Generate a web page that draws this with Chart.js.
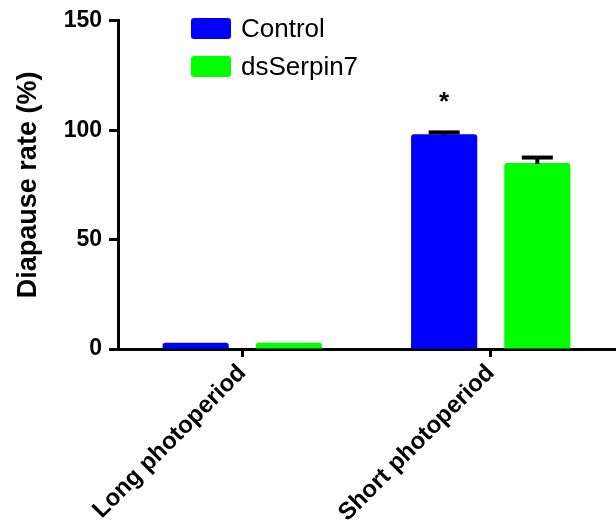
<!DOCTYPE html>
<html>
<head>
<meta charset="utf-8">
<script src="https://cdn.jsdelivr.net/npm/chart.js@4/dist/chart.umd.min.js"></script>
<style>
  html, body { margin: 0; padding: 0; background: #ffffff; }
  #wrap { width: 616px; height: 528px; position: relative; }
</style>
</head>
<body>
<div id="wrap"><canvas id="c" width="616" height="528"></canvas></div>
<script>
const categories = ['Long photoperiod', 'Short photoperiod'];
const seriesNames = ['Control', 'dsSerpin7'];
const controlValues = [2.8, 98.2];
const controlErrors = [0, 0.8];
const dsSerpin7Values = [2.8, 85.0];
const dsSerpin7Errors = [0, 2.5];
const controlMarks = ['', '*'];
const dsSerpin7Marks = ['', ''];
const yTicks = [0, 50, 100, 150];
const yTitle = 'Diapause rate (%)';

const FONT = 'Arial, "Liberation Sans", Helvetica, sans-serif';
const BLUE = '#0000FF';
const GREEN = '#00FF00';

const errorBarPlugin = {
  id: 'errorBars',
  afterDatasetsDraw(chart) {
    const ctx = chart.ctx;
    const y = chart.scales.y;
    chart.data.datasets.forEach((ds, di) => {
      const meta = chart.getDatasetMeta(di);
      meta.data.forEach((bar, i) => {
        const v = ds.data[i];
        const e = ds.errors[i];
        const top = y.getPixelForValue(v + e);
        const base = y.getPixelForValue(v);
        ctx.save();
        if (e > 0) {
          ctx.strokeStyle = '#000';
          ctx.lineWidth = 4;
          ctx.beginPath();
          ctx.moveTo(bar.x, base + 1);
          ctx.lineTo(bar.x, top);
          ctx.stroke();
          ctx.beginPath();
          ctx.moveTo(bar.x - 15.5, top);
          ctx.lineTo(bar.x + 15.5, top);
          ctx.stroke();
        }
        const mark = ds.marks[i];
        if (mark) {
          ctx.fillStyle = '#000';
          ctx.font = 'bold 26px ' + FONT;
          ctx.textAlign = 'center';
          ctx.textBaseline = 'alphabetic';
          ctx.fillText(mark, bar.x, top - 22);
        }
        ctx.restore();
      });
    });
  }
};

const legendPlugin = {
  id: 'customLegend',
  afterDraw(chart) {
    const ctx = chart.ctx;
    const x0 = 191, y0 = 18, bw = 40, bh = 21, gap = 38;
    chart.data.datasets.forEach((ds, i) => {
      const yy = y0 + i * gap;
      ctx.save();
      ctx.fillStyle = ds.backgroundColor;
      ctx.beginPath();
      ctx.roundRect(x0, yy, bw, bh, 3);
      ctx.fill();
      ctx.fillStyle = '#000';
      ctx.font = '26px ' + FONT;
      ctx.textAlign = 'left';
      ctx.textBaseline = 'middle';
      ctx.fillText(ds.label, x0 + bw + 10, yy + bh / 2 + 1);
      ctx.restore();
    });
  }
};

new Chart(document.getElementById('c'), {
  type: 'bar',
  data: {
    labels: categories,
    datasets: [
      { label: seriesNames[0], data: controlValues, errors: controlErrors, marks: controlMarks,
        backgroundColor: BLUE, borderWidth: 0, borderRadius: 3, borderSkipped: 'bottom' },
      { label: seriesNames[1], data: dsSerpin7Values, errors: dsSerpin7Errors, marks: dsSerpin7Marks,
        backgroundColor: GREEN, borderWidth: 0, borderRadius: 3, borderSkipped: 'bottom' }
    ]
  },
  options: {
    responsive: false,
    animation: false,
    devicePixelRatio: 1,
    layout: { padding: { top: 20, right: 1, left: 0, bottom: 0 } },
    datasets: { bar: { categoryPercentage: 0.75, barPercentage: 0.71 } },
    plugins: { legend: { display: false }, tooltip: { enabled: false } },
    scales: {
      x: {
        grid: { display: true, drawOnChartArea: false, offset: false, tickLength: 8, tickWidth: 3, tickColor: '#000' },
        border: { display: true, color: '#000', width: 3 },
        ticks: { color: '#000', font: { family: FONT, size: 24, weight: 'bold' }, minRotation: 45, maxRotation: 45, padding: 2 },
        afterFit(scale) { scale.height = 179; }
      },
      y: {
        min: 0, max: 150,
        afterBuildTicks(scale) { scale.ticks = yTicks.map(v => ({ value: v })); },
        grid: { display: true, drawOnChartArea: false, tickLength: 9, tickWidth: 3, tickColor: '#000' },
        border: { display: true, color: '#000', width: 3 },
        ticks: { color: '#000', font: { family: FONT, size: 23, weight: 'bold' }, padding: 7 },
        title: { display: true, text: yTitle, color: '#000', font: { family: FONT, size: 27, weight: 'bold' }, padding: { top: 12, bottom: 0 } },
        afterFit(scale) { scale.width = 118; }
      }
    }
  },
  plugins: [errorBarPlugin, legendPlugin]
});
</script>
</body>
</html>
